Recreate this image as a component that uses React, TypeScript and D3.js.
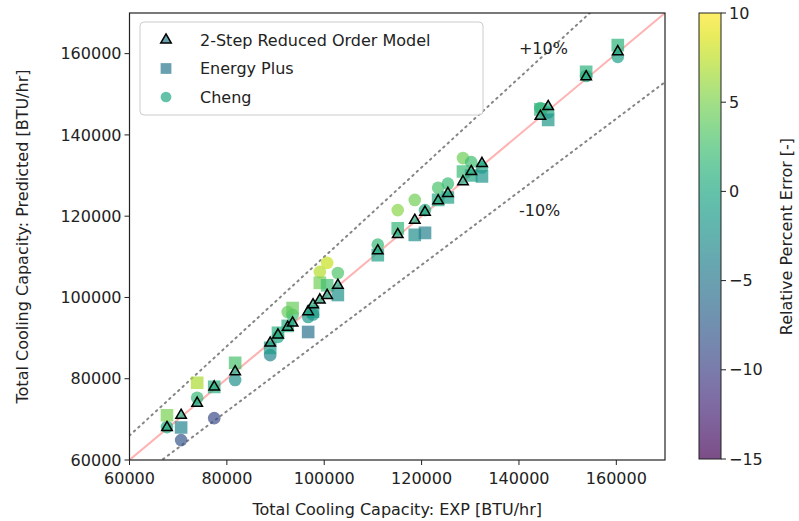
import React from "react";
import * as d3 from "d3";

// experimental capacity (x) and the three predictions (y), BTU/hr
const expCapacity = [
	67700, 70600, 73900, 77400, 81700, 88900, 90500, 92500, 93500, 96700, 97700, 99100, 100600, 102800,
	111000, 115100, 118600, 120700, 123400, 125400, 128500, 130200, 132400, 144400, 146000, 153800, 160300,
];
const romPred = [
	68000, 71000, 74000, 78000, 81700, 88800, 90800, 92700, 93700, 96500, 98200, 99400, 100500, 103000,
	111500, 115500, 119000, 121000, 123800, 125600, 128500, 131000, 133000, 144600, 147000, 154300, 160500,
];
const energyPlusPred = [
	71000, 68000, 79000, 78000, 83900, 87600, 91300, 93000, 97400, 91500, 96500, 103600, 103000, 100600,
	110400, 117000, 115400, 115900, 124000, 124600, 131000, 130000, 129800, 146300, 143700, 155500, 162100,
];
const chengPred = [
	68100, 64900, 75300, 70300, 79700, 85800, 90300, 96400, 95700, 95200, 95800, 106300, 108500, 106000,
	113000, 121500, 124000, 121500, 127000, 128000, 134300, 133300, 132000, 146600, 145500, 154500, 159200,
];

const axisTicks = [60000, 80000, 100000, 120000, 140000, 160000];
const errorTicks = [-15, -10, -5, 0, 5, 10];
const seriesNames = ["2-Step Reduced Order Model", "Energy Plus", "Cheng"];

const W = 799,
	H = 521;
const margin = { left: 129.5, right: 665, top: 13, bottom: 460 };
const cbar = { x: 699, w: 22 };
const FONT = "DejaVu Sans, sans-serif";

const fmtMinus = (v: number) => (v < 0 ? "\u2212" + Math.abs(v) : String(v));

export default function App() {
	const x = d3.scaleLinear().domain([60000, 170000]).range([margin.left, margin.right]);
	const y = d3.scaleLinear().domain([60000, 170000]).range([margin.bottom, margin.top]);
	const c = d3.scaleLinear().domain([-15, 10]).range([margin.bottom - 1, margin.top]);
	const color = (e: number) => d3.interpolateViridis((Math.max(-15, Math.min(10, e)) + 15) / 25);
	const relErr = (p: number, e: number) => ((p - e) / e) * 100;

	const tri = d3.symbol().type(d3.symbolTriangle).size(48)()!;
	const sq = d3.symbol().type(d3.symbolSquare).size(160)()!;
	const circ = d3.symbol().type(d3.symbolCircle).size(125)()!;

	const line = (k: number) =>
		d3
			.line<number>()
			.x((v) => x(v))
			.y((v) => y(v * k))([60000, 170000])!;

	const gradStops = d3.range(0, 1.0001, 0.05);

	return (
		<div style={{ position: "absolute", left: 0, top: 0 }}>
			<svg width={W} height={H} style={{ fontFamily: FONT, display: "block" }}>
				<defs>
					<clipPath id="plotClip">
						<rect x={margin.left} y={margin.top} width={margin.right - margin.left} height={margin.bottom - margin.top} />
					</clipPath>
					<linearGradient id="cbGrad" x1="0" y1="1" x2="0" y2="0">
						{gradStops.map((t) => (
							<stop key={t} offset={t} stopColor={d3.interpolateViridis(t)} stopOpacity={0.7} />
						))}
					</linearGradient>
				</defs>
				<rect width={W} height={H} fill="white" />

				<g clipPath="url(#plotClip)">
					<path d={line(1.1)} stroke="#666" strokeWidth={2} strokeDasharray="1.5,4.5" strokeLinecap="round" fill="none" opacity={0.8} />
					<path d={line(0.9)} stroke="#666" strokeWidth={2} strokeDasharray="1.5,4.5" strokeLinecap="round" fill="none" opacity={0.8} />
					<path d={line(1)} stroke="red" strokeOpacity={0.3} strokeWidth={2} fill="none" />

					{expCapacity.map((e, i) => (
						<path
							key={"c" + i}
							d={circ}
							transform={`translate(${x(e)},${y(chengPred[i])})`}
							fill={color(relErr(chengPred[i], e))}
							fillOpacity={0.7}
						/>
					))}
					{expCapacity.map((e, i) => (
						<path
							key={"s" + i}
							d={sq}
							transform={`translate(${x(e)},${y(energyPlusPred[i])})`}
							fill={color(relErr(energyPlusPred[i], e))}
							fillOpacity={0.7}
						/>
					))}
					{expCapacity.map((e, i) => (
						<path
							key={"t" + i}
							d={tri}
							transform={`translate(${x(e)},${y(romPred[i])})`}
							fill={color(relErr(romPred[i], e))}
							fillOpacity={0.7}
							stroke="black"
							strokeWidth={1.5}
						/>
					))}
				</g>

				<text x={x(140000)} y={y(160000)} fontSize={16} fill="#222">
					+10%
				</text>
				<text x={x(140000)} y={y(120000)} fontSize={16} fill="#222">
					-10%
				</text>

				{/* frame */}
				<rect
					x={margin.left}
					y={margin.top}
					width={margin.right - margin.left}
					height={margin.bottom - margin.top}
					fill="none"
					stroke="#222"
					strokeWidth={1.2}
				/>

				{/* x axis */}
				{axisTicks.map((t) => (
					<g key={"x" + t} transform={`translate(${x(t)},${margin.bottom})`}>
						<line y2={5} stroke="#222" />
						<text y={24} textAnchor="middle" fontSize={16} fill="#222">
							{t}
						</text>
					</g>
				))}
				{/* y axis */}
				{axisTicks.map((t) => (
					<g key={"y" + t} transform={`translate(${margin.left},${y(t)})`}>
						<line x2={-5} stroke="#222" />
						<text x={-8} dy="0.35em" textAnchor="end" fontSize={16} fill="#222">
							{t}
						</text>
					</g>
				))}
				<text x={(margin.left + margin.right) / 2} y={515} textAnchor="middle" fontSize={16} fill="#222">
					Total Cooling Capacity: EXP [BTU/hr]
				</text>
				<text
					transform={`translate(28,${(margin.top + margin.bottom) / 2}) rotate(-90)`}
					textAnchor="middle"
					fontSize={16}
					fill="#222"
				>
					Total Cooling Capacity: Predicted [BTU/hr]
				</text>

				{/* legend */}
				<rect x={140} y={22} width={343} height={93} rx={4} fill="white" fillOpacity={0.8} stroke="#ccc" />
				{seriesNames.map((n, i) => {
					const cy = 40 + i * 28.5;
					const sym = i === 0 ? tri : i === 1 ? sq : circ;
					const col = i === 0 ? "#2a7a8c" : i === 1 ? "#2a788e" : "#22a884";
					return (
						<g key={n}>
							<path
								d={sym}
								transform={`translate(166,${cy}) scale(${i === 0 ? 1 : 0.85})`}
								fill={col}
								fillOpacity={0.7}
								stroke={i === 0 ? "black" : "none"}
								strokeWidth={1.5}
							/>
							<text x={200} y={cy} dy="0.35em" fontSize={16} fill="#222">
								{n}
							</text>
						</g>
					);
				})}

				{/* colorbar */}
				<rect x={cbar.x} y={margin.top} width={cbar.w} height={margin.bottom - 1 - margin.top} fill="url(#cbGrad)" stroke="#222" strokeWidth={1} />
				{errorTicks.map((t) => (
					<g key={"c" + t} transform={`translate(${cbar.x + cbar.w},${c(t)})`}>
						<line x2={5} stroke="#222" />
						<text x={8} dy="0.35em" fontSize={16} fill="#222">
							{fmtMinus(t)}
						</text>
					</g>
				))}
				<text
					transform={`translate(792,${(margin.top + margin.bottom) / 2}) rotate(-90)`}
					textAnchor="middle"
					fontSize={16}
					fill="#222"
				>
					Relative Percent Error [-]
				</text>
			</svg>
		</div>
	);
}
